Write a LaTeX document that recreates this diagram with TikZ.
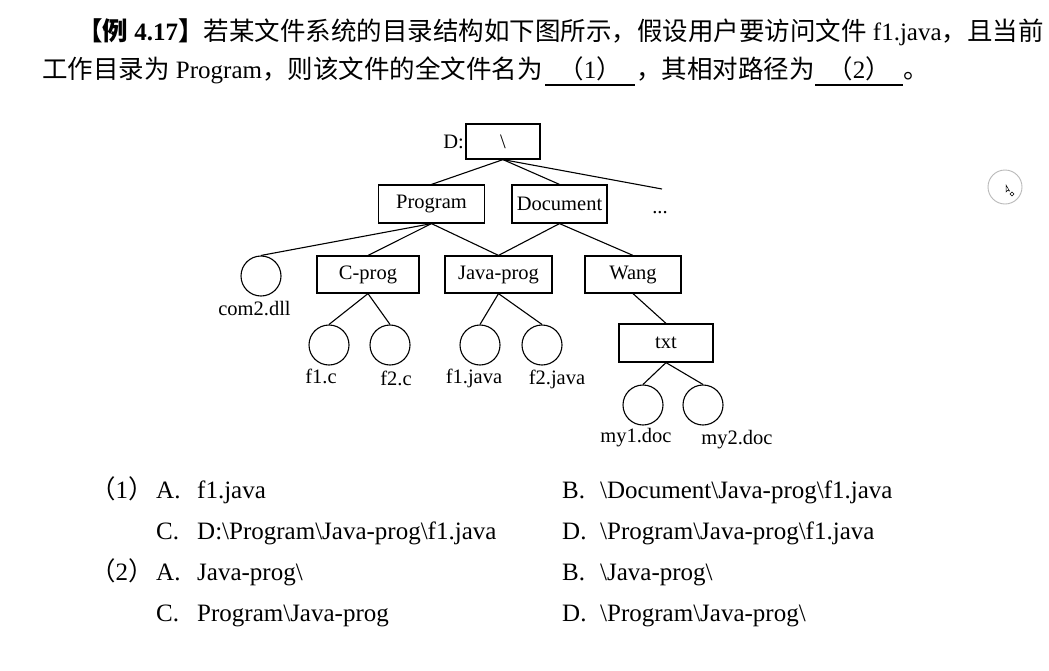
\documentclass[tikz,border=0pt]{standalone}
\usepackage{fontspec}
\setmainfont{Liberation Serif}
\newfontfamily\cjk{Noto Sans CJK SC}[Scale=1.02]
\newcommand\mytreefont{\fontsize{20.5}{24}\selectfont}
\newcommand\mybigfont{\fontsize{25}{30}\selectfont}
\newcommand\bs{\textbackslash}
\tikzset{
  dirbox/.style={draw, line width=1.2pt, inner sep=0pt, font=\mytreefont},
  filecirc/.style={draw, circle, line width=1.1pt, minimum size=40pt, inner sep=0pt},
  edge/.style={line width=1.1pt},
  lbl/.style={font=\mytreefont, inner sep=0pt, anchor=base},
  txt/.style={font=\mybigfont, inner sep=0pt, anchor=base west},
  blank/.style={line width=1.4pt},
}
\begin{document}
\begin{tikzpicture}[x=1pt,y=-1pt]
\useasboundingbox[fill=white] (0,0) rectangle (1049,670);

% ---- title ----
\node[txt] (t1) at (77,40) {{\cjk\bfseries 【例} \textbf{4.17}{\cjk\bfseries 】}{\cjk 若某文件系统的目录结构如下图所示，假设用户要访问文件} f1.java{\cjk ，且当前}};
\node[txt] (t2) at (42,78) {{\cjk 工作目录为} Program{\cjk ，则该文件的全文件名为}};
\coordinate (u1a) at (545,85); \coordinate (u1b) at (635,85);
\draw[blank] (u1a) -- (u1b);
\node[font=\mybigfont, inner sep=0pt, anchor=base] (b1) at (590,78) {{\cjk （}1{\cjk ）}};
\node[txt] (t3) at (636,78) {{\cjk ，其相对路径为}};
\coordinate (u2a) at (815,85); \coordinate (u2b) at (903,85);
\draw[blank] (u2a) -- (u2b);
\node[font=\mybigfont, inner sep=0pt, anchor=base] (b2) at (859,78) {{\cjk （}2{\cjk ）}};
\node[txt] (t4) at (903,78) {{\cjk 。}};

% ---- tree ----
\node[dirbox, minimum width=74pt, minimum height=35pt] (root) at (503,141.5) {\bs};
\node[font=\mytreefont, inner sep=0pt, anchor=east] (dlbl) at (464,142) {D:};
\node[dirbox, minimum width=106pt, minimum height=38pt] (prog) at (431.5,204) {Program};
\node[dirbox, minimum width=95pt, minimum height=38pt] (doc) at (559.5,204) {Document};
\node[font=\mytreefont, inner sep=0pt, anchor=base] (dots) at (660,213) {...};
\coordinate (dotsend) at (662,189);

\node[dirbox, minimum width=102pt, minimum height=37pt] (cprog) at (368,274.5) {C-prog};
\node[dirbox, minimum width=107pt, minimum height=37pt] (jprog) at (498.5,274.5) {Java-prog};
\node[dirbox, minimum width=96pt, minimum height=37pt] (wang) at (633,274.5) {Wang};
\node[dirbox, minimum width=94pt, minimum height=38pt] (txtd) at (666,343) {txt};

\node[filecirc] (com2) at (261,276) {};
\node[filecirc] (f1c) at (329,345) {};
\node[filecirc] (f2c) at (390,345) {};
\node[filecirc] (f1j) at (480,345) {};
\node[filecirc] (f2j) at (542,345) {};
\node[filecirc] (my1) at (643,405) {};
\node[filecirc] (my2) at (703,405) {};

\node[lbl] (lcom2) at (254.5,315) {com2.dll};
\node[lbl] (lf1c) at (321,383) {f1.c};
\node[lbl] (lf2c) at (396,385) {f2.c};
\node[lbl] (lf1j) at (474,383) {f1.java};
\node[lbl] (lf2j) at (557,384) {f2.java};
\node[lbl] (lmy1) at (636,442) {my1.doc};
\node[lbl] (lmy2) at (737,444) {my2.doc};

\draw[edge] (root.south) -- (prog.north);
\draw[edge] (root.south) -- (doc.north);
\draw[edge] (root.south) -- (dotsend);
\draw[edge] (prog.south) -- (com2.north);
\draw[edge] (prog.south) -- (cprog.north);
\draw[edge] (prog.south) -- (jprog.north);
\draw[edge] (doc.south) -- (jprog.north);
\draw[edge] (doc.south) -- (wang.north);
\draw[edge] (cprog.south) -- (f1c.north);
\draw[edge] (cprog.south) -- (f2c.north);
\draw[edge] (jprog.south) -- (f1j.north);
\draw[edge] (jprog.south) -- (f2j.north);
\draw[edge] (wang.south) -- (txtd.north);
\draw[edge] (txtd.south) -- (my1.north);
\draw[edge] (txtd.south) -- (my2.north);

% ---- cursor icon ----
\node[draw=gray!55, circle, line width=0.9pt, minimum size=34pt, inner sep=0pt] (cur) at (1005,187) {};
\draw[line width=0.5pt] (1006,185) -- (1006,192) -- (1007.5,190.5) -- (1009.5,191) -- cycle;
\draw[line width=0.5pt] (1010,194) -- (1012,192) -- (1014,194) -- (1012,196) -- cycle;

% ---- options ----
\node[txt] (o1) at (90,498) {{\cjk （}1{\cjk ）}};
\node[txt] (o1a) at (156,498) {A.};
\node[txt] (o1at) at (197,498) {f1.java};
\node[txt] (o1b) at (562,498) {B.};
\node[txt] (o1bt) at (600,498) {\bs Document\bs Java-prog\bs f1.java};
\node[txt] (o1c) at (156,539) {C.};
\node[txt] (o1ct) at (197,539) {D:\bs Program\bs Java-prog\bs f1.java};
\node[txt] (o1d) at (562,539) {D.};
\node[txt] (o1dt) at (600,539) {\bs Program\bs Java-prog\bs f1.java};

\node[txt] (o2) at (90,580) {{\cjk （}2{\cjk ）}};
\node[txt] (o2a) at (156,580) {A.};
\node[txt] (o2at) at (197,580) {Java-prog\bs};
\node[txt] (o2b) at (562,580) {B.};
\node[txt] (o2bt) at (600,580) {\bs Java-prog\bs};
\node[txt] (o2c) at (156,621) {C.};
\node[txt] (o2ct) at (197,621) {Program\bs Java-prog};
\node[txt] (o2d) at (562,621) {D.};
\node[txt] (o2dt) at (600,621) {\bs Program\bs Java-prog\bs};
\end{tikzpicture}
\end{document}
